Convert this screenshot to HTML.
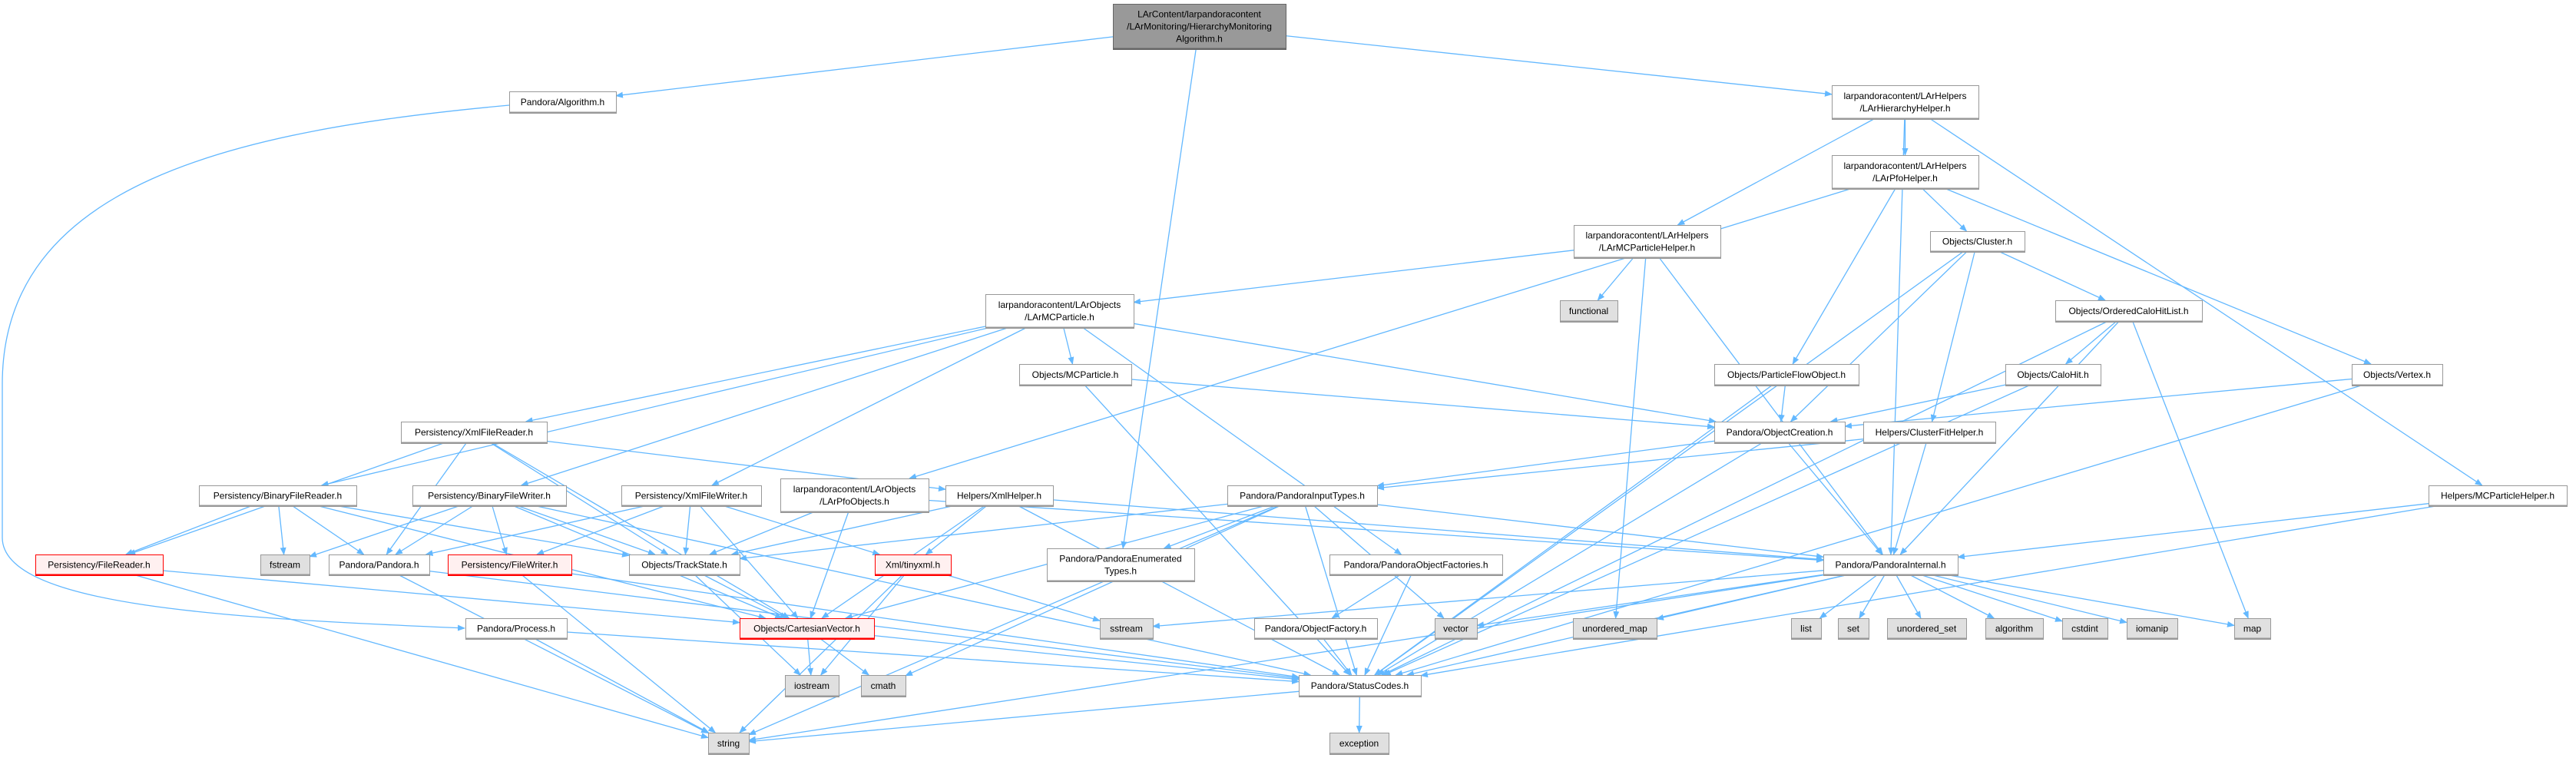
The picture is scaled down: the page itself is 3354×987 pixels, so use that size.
<!DOCTYPE html>
<html><head><meta charset="utf-8"><style>
html,body{margin:0;padding:0;background:#fff;}
svg{display:block;}
text{font-family:"Liberation Sans",Arial,sans-serif;font-size:12px;fill:#000;}
</style></head><body>
<svg id="g" width="3354" height="987" viewBox="0 0 3354 987" xmlns="http://www.w3.org/2000/svg">
<defs><marker id="ah" markerWidth="10" markerHeight="8" refX="9" refY="4" orient="auto" markerUnits="userSpaceOnUse"><path d="M0,0 L10,4 L0,8 z" fill="#63b8ff"/></marker></defs>
<g id="edges" fill="none" stroke="#63b8ff" stroke-width="1.3"></g>
<g id="nodes"></g>
</svg>
<script>
// id: [x1,y1,x2,y2,type,lines]
var N={
root:[1449,5,1674,64,'root',['LArContent/larpandoracontent','/LArMonitoring/HierarchyMonitoring','Algorithm.h']],
alg:[663,119,802,147,'n',['Pandora/Algorithm.h']],
hier:[2385,111,2576,155,'n',['larpandoracontent/LArHelpers','/LArHierarchyHelper.h']],
pfoh:[2385,202,2576,246,'n',['larpandoracontent/LArHelpers','/LArPfoHelper.h']],
mcph:[2049,293,2240,336,'n',['larpandoracontent/LArHelpers','/LArMCParticleHelper.h']],
clus:[2513,301,2636,328,'n',['Objects/Cluster.h']],
func:[2031,391,2106,419,'s',['functional']],
ochl:[2676,391,2867,419,'n',['Objects/OrderedCaloHitList.h']],
lmcp:[1283,383,1476,427,'n',['larpandoracontent/LArObjects','/LArMCParticle.h']],
mcp:[1327,474,1473,502,'n',['Objects/MCParticle.h']],
pfo:[2232,474,2420,502,'n',['Objects/ParticleFlowObject.h']],
calo:[2611,474,2735,502,'n',['Objects/CaloHit.h']],
vtx:[3062,474,3180,502,'n',['Objects/Vertex.h']],
xfr:[522,549,712,577,'n',['Persistency/XmlFileReader.h']],
oc:[2232,549,2402,577,'n',['Pandora/ObjectCreation.h']],
cfh:[2426,549,2598,577,'n',['Helpers/ClusterFitHelper.h']],
bfr:[259,632,464,659,'n',['Persistency/BinaryFileReader.h']],
bfw:[537,632,737,659,'n',['Persistency/BinaryFileWriter.h']],
xfw:[809,632,991,659,'n',['Persistency/XmlFileWriter.h']],
lpo:[1016,623,1209,667,'n',['larpandoracontent/LArObjects','/LArPfoObjects.h']],
xh:[1231,632,1371,659,'n',['Helpers/XmlHelper.h']],
pit:[1598,632,1793,659,'n',['Pandora/PandoraInputTypes.h']],
mcph2:[3162,632,3342,659,'n',['Helpers/MCParticleHelper.h']],
fr:[46,722,212,749,'r',['Persistency/FileReader.h']],
fst:[339,722,403,749,'s',['fstream']],
pan:[428,722,559,749,'n',['Pandora/Pandora.h']],
fw:[583,722,744,749,'r',['Persistency/FileWriter.h']],
ts:[819,722,963,749,'n',['Objects/TrackState.h']],
txml:[1139,722,1238,749,'r',['Xml/tinyxml.h']],
pet:[1363,714,1555,757,'n',['Pandora/PandoraEnumerated','Types.h']],
pof:[1731,722,1956,749,'n',['Pandora/PandoraObjectFactories.h']],
pint:[2374,722,2549,749,'n',['Pandora/PandoraInternal.h']],
proc:[606,805,738,832,'n',['Pandora/Process.h']],
cv:[963,805,1138,832,'r',['Objects/CartesianVector.h']],
sst:[1432,805,1501,832,'s',['sstream']],
of:[1633,805,1793,832,'n',['Pandora/ObjectFactory.h']],
vec:[1868,805,1923,832,'s',['vector']],
umap:[2048,805,2157,832,'s',['unordered_map']],
lst:[2332,805,2371,832,'s',['list']],
set:[2393,805,2433,832,'s',['set']],
uset:[2457,805,2560,832,'s',['unordered_set']],
algo:[2585,805,2660,832,'s',['algorithm']],
cstd:[2685,805,2744,832,'s',['cstdint']],
iom:[2769,805,2835,832,'s',['iomanip']],
map:[2909,805,2956,832,'s',['map']],
ios:[1022,879,1092,907,'s',['iostream']],
cm:[1121,879,1179,907,'s',['cmath']],
sc:[1691,879,1850,907,'n',['Pandora/StatusCodes.h']],
str:[922,954,975,982,'s',['string']],
exc:[1731,954,1808,982,'s',['exception']]
};
var E=[
['root','alg'],['root','hier'],['root','pet'],
['hier','pfoh'],['hier','mcph'],['hier','pint'],['hier','mcph2'],
['pfoh','lpo'],['pfoh','pfo'],['pfoh','clus'],['pfoh','vtx'],
['mcph','lmcp'],['mcph','func'],['mcph','umap'],['mcph','pint'],
['lmcp','xfr'],['lmcp','bfr'],['lmcp','bfw'],['lmcp','xfw'],['lmcp','mcp'],['lmcp','pof'],['lmcp','oc'],
['clus','ochl'],['clus','oc'],['clus','cfh'],['clus','sc'],
['ochl','calo'],['ochl','pint'],['ochl','map'],['ochl','sc'],
['calo','oc'],['calo','sc'],['vtx','oc'],['vtx','sc'],['pfo','oc'],['pfo','sc'],['mcp','oc'],['mcp','sc'],
['oc','pit'],['oc','pint'],['oc','sc'],['cfh','pit'],['cfh','pint'],
['mcph2','pint'],['mcph2','sc'],
['pit','pet'],['pit','cv'],['pit','ts'],['pit','pint'],['pit','sc'],['pit','vec'],['pit','str'],['pit','cm'],
['pof','of'],['pof','sc'],['of','sc'],
['pint','sst'],['pint','vec'],['pint','umap'],['pint','lst'],['pint','set'],['pint','uset'],['pint','algo'],['pint','cstd'],['pint','iom'],['pint','map'],['pint','sc'],['pint','str'],
['sc','exc'],['sc','str'],
['xfr','fr'],['xfr','pan'],['xfr','ts'],['xfr','xh'],['xfr','cv'],
['bfr','fr'],['bfr','fst'],['bfr','pan'],['bfr','ts'],['bfr','cv'],
['bfw','fst'],['bfw','pan'],['bfw','fw'],['bfw','ts'],['bfw','cv'],['bfw','sc'],
['xfw','pan'],['xfw','fw'],['xfw','ts'],['xfw','cv'],['xfw','txml'],
['lpo','ts'],['lpo','cv'],['lpo','pint'],
['xh','ts'],['xh','cv'],['xh','txml'],['xh','sc'],['xh','pint'],
['fr','cv'],['fr','str'],['pan','str'],['pan','sc'],['fw','str'],['fw','sc'],
['ts','cv'],['ts','ios'],['txml','sst'],['txml','ios'],['txml','str'],
['proc','str'],['proc','sc'],['cv','ios'],['cv','cm'],['cv','sc']
];
var NS='http://www.w3.org/2000/svg';
function el(t,a,p){var e=document.createElementNS(NS,t);for(var k in a)e.setAttribute(k,a[k]);p.appendChild(e);return e;}
var eg=document.getElementById('edges'),ng=document.getElementById('nodes');
function clip(n,cx,cy,dx,dy){ // point on border of node n from center toward (dx,dy)
 var hw=(n[2]-n[0])/2,hh=(n[3]-n[1])/2,t=1e9;
 if(dx)t=Math.min(t,hw/Math.abs(dx)); if(dy)t=Math.min(t,hh/Math.abs(dy));
 return [cx+dx*t,cy+dy*t];}
E.forEach(function(e){
 var a=N[e[0]],b=N[e[1]];
 var ax=(a[0]+a[2])/2,ay=(a[1]+a[3])/2,bx=(b[0]+b[2])/2,by=(b[1]+b[3])/2;
 var dx=bx-ax,dy=by-ay;
 var p=clip(a,ax,ay,dx,dy),q=clip(b,bx,by,-dx,-dy);
 el('path',{d:'M'+p[0].toFixed(1)+','+p[1].toFixed(1)+' L'+q[0].toFixed(1)+','+q[1].toFixed(1),'marker-end':'url(#ah)'},eg);
});
// special: Algorithm -> Process big left curve
el('path',{d:'M663,137 C300,170 3,240 3,500 L3,700 C3,790 300,805 605,818','marker-end':'url(#ah)'},eg);
for(var k in N){var n=N[k];
 var st={n:['#fff','#999'],s:['#e0e0e0','#999'],r:['#fff0f0','#ff0000'],root:['#999','#666']}[n[4]];
 el('rect',{x:n[0]+.5,y:n[1]+.5,width:n[2]-n[0],height:n[3]-n[1],fill:st[0],stroke:st[1],'stroke-width':1},ng);
 el('line',{x1:n[0]+.5,y1:n[3]-.5,x2:n[2]+.5,y2:n[3]-.5,stroke:st[1],'stroke-width':2},ng);
 var L=n[5],h=n[3]-n[1],cx=(n[0]+n[2])/2,y0=n[1]+h/2-(L.length-1)*8+4;
 L.forEach(function(s,i){var t=el('text',{x:cx,y:y0+i*16,'text-anchor':'middle'},ng);t.textContent=s;});
}
</script>
</body></html>
